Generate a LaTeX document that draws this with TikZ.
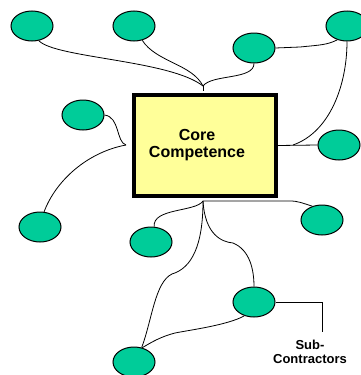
\documentclass[tikz,border=0pt]{standalone}
\usepackage{fontspec}
\setmainfont{Liberation Sans}
\usetikzlibrary{shapes.geometric}
\definecolor{blobgreen}{HTML}{00CC99}
\definecolor{coreyellow}{HTML}{FFFF99}

\begin{document}
\begin{tikzpicture}[x = 1pt, y = -1pt, line width = 0.8pt,
                        blob/.style = {ellipse, draw, line width = 1pt, fill = blobgreen,
                                       minimum width = 42pt, minimum height = 30pt, inner sep = 0pt},
                        corebox/.style = {rectangle, draw, line width = 4pt, fill = coreyellow,
                                          minimum width = 142pt, minimum height = 101pt},
                        tag/.style = {font = \bfseries, align = center}]
      \useasboundingbox (0, 0) rectangle (361, 375);
      \clip (0, 0) rectangle (361, 375);

      \node [corebox] (core) at (205, 145.5) {};
      \node [tag, font = \bfseries\fontsize{16}{17}\selectfont] (corelabel) at (197, 145) {Core\\Competence};

      \node [blob] (n1) at (32, 26) {};
      \node [blob] (n2) at (134, 26) {};
      \node [blob] (n3) at (254, 48) {};
      \node [blob] (n4) at (347, 26) {};
      \node [blob] (n5) at (83, 115) {};
      \node [blob] (n6) at (339, 145) {};
      \node [blob] (n7) at (40, 227) {};
      \node [blob] (n8) at (151, 242) {};
      \node [blob] (n9) at (322, 220) {};
      \node [blob] (n10) at (254, 302) {};
      \node [blob] (n11) at (134, 362) {};

      \coordinate (top) at (203, 86);
      \coordinate (bot) at (203, 201);
      \coordinate (left) at (126, 145);
      \coordinate (right) at (293, 145);
      \coordinate (subend) at (322, 332);

      \draw (top) -- (203, 91);
      \draw (n1.-65) .. controls (55, 58) and (170, 60) .. (top);
      \draw (n2.-60) .. controls (156, 62) and (192, 64) .. (top);
      \draw (n3.south) .. controls (254, 80) and (212, 74) .. (top);
      \draw (n3.east) -- (300, 47) .. controls (320, 45) and (327, 45) .. (n4.-125);

      \draw (core.east) -- (n6.west);
      \draw (right) .. controls (330, 132) and (347, 85) .. (n4.south);

      \draw (n5.east) .. controls (120, 117) and (116, 142) .. (left);
      \draw (left) .. controls (88, 152) and (56, 180) .. (n7.75);

      \draw (bot) -- (290, 201) .. controls (298, 201) and (302, 203) .. (n9.125);
      \draw (bot) .. controls (196, 212) and (152, 208) .. (n8.78);
      \draw (bot) .. controls (203, 245) and (192, 268) .. (172, 274)
                  .. controls (155, 282) and (152, 320) .. (n11.62);
      \draw (bot) .. controls (205, 235) and (222, 242) .. (233, 243)
                  .. controls (250, 250) and (254, 270) .. (n10.north);
      \draw (n10.-125) .. controls (228, 325) and (190, 330) .. (175, 333)
                       .. controls (160, 337) and (152, 342) .. (n11.60);

      \draw (n10.east) -- (322, 302) -- (subend);
      \node [tag, font = \bfseries\fontsize{13}{14}\selectfont, anchor = north] (sublabel)
            at (310, 336) {Sub-\\Contractors};

      \end{tikzpicture}
\end{document}
